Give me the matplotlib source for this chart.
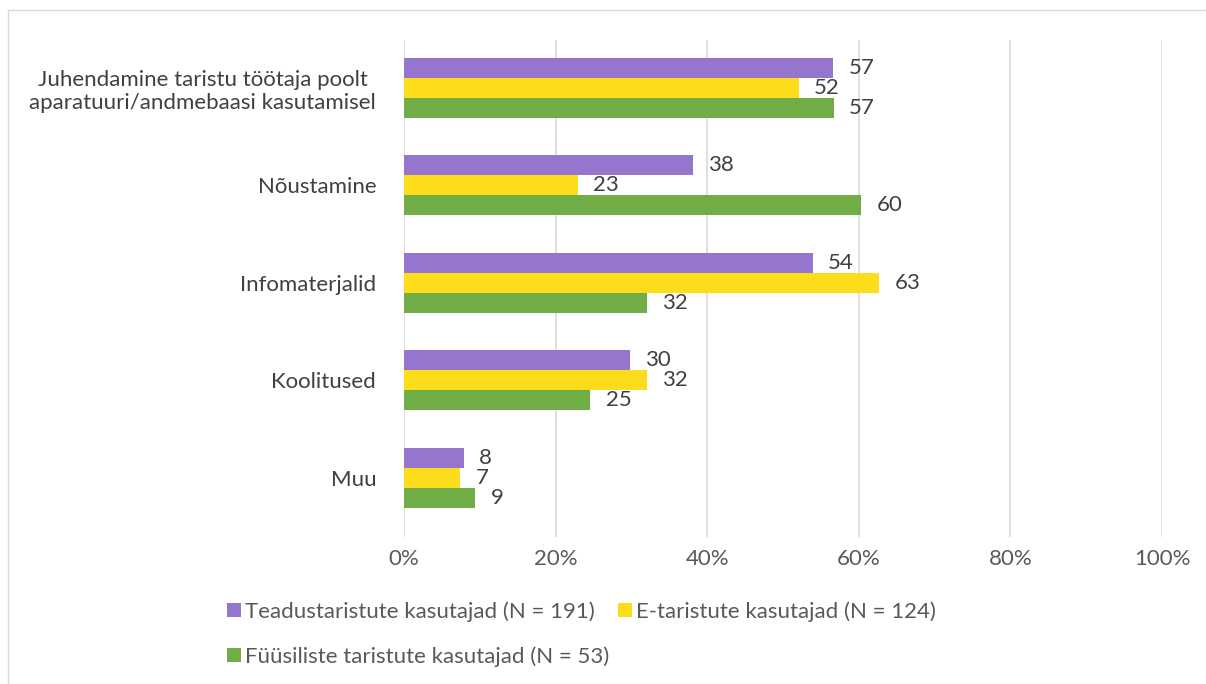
import matplotlib
matplotlib.use('Agg')
import matplotlib.pyplot as plt
import numpy as np
from matplotlib.patches import Rectangle

categories = [
    "Juhendamine taristu töötaja poolt\naparatuuri/andmebaasi kasutamisel",
    "Nõustamine",
    "Infomaterjalid",
    "Koolitused",
    "Muu",
]
teadus = [56.6, 38.1, 53.9, 29.8, 7.9]
e_taristu = [52.1, 22.9, 62.7, 32.0, 7.4]
fyysiline = [56.7, 60.3, 32.0, 24.6, 9.4]
series_names = [
    "Teadustaristute kasutajad (N = 191)",
    "E-taristute kasutajad (N = 124)",
    "Füüsiliste taristute kasutajad (N = 53)",
]
colors = ["#9575CD", "#FDDC1C", "#70AD47"]

plt.rcParams['font.family'] = ['Lato', 'DejaVu Sans']

fig = plt.figure(figsize=(12.06, 6.84), dpi=100)
ax = fig.add_axes([0.335, 0.215, 0.6285, 0.727])

# thin frame around the chart area
fig.patches.append(Rectangle((0.007, -0.01), 1.2, 0.995, transform=fig.transFigure,
                             fill=False, edgecolor="#D9D9D9", linewidth=1))

y = np.arange(len(categories))
h = 0.205
bars = []
for i, (vals, c) in enumerate(zip([teadus, e_taristu, fyysiline], colors)):
    pos = y - h + i * h
    b = ax.barh(pos, vals, height=h, color=c, label=series_names[i])
    bars.append(b)
    for p, v in zip(pos, vals):
        ax.annotate(f"{round(v)}", (v, p), xytext=(11, 0), textcoords="offset points",
                    va="center", ha="left", fontsize=16, color="#404040")

ax.set_ylim(4.605, -0.492)
ax.set_xlim(0, 100)
ax.set_xticks(range(0, 101, 20))
ax.set_xticklabels([f"{t}%" for t in range(0, 101, 20)])
ax.set_yticks(y)
ax.set_yticklabels(categories, multialignment="center")
ax.tick_params(axis="both", length=0, labelsize=16, colors="#595959")
ax.tick_params(axis="x", pad=9)
ax.tick_params(axis="y", pad=20)
for t in ax.get_yticklabels():
    t.set_color("#404040")
ax.grid(axis="x", color="#D9D9D9", linewidth=1.2)
ax.set_axisbelow(True)
for s in ax.spines.values():
    s.set_visible(False)

handles = [bars[0], bars[2], bars[1]]
labels = [series_names[0], series_names[2], series_names[1]]
fig.legend(handles, labels, ncol=2, loc="upper left", bbox_to_anchor=(0.172, 0.15),
           frameon=False, fontsize=16, handlelength=0.6, handleheight=0.6,
           handletextpad=0.2, columnspacing=0.4, labelspacing=1.1, labelcolor="#595959")

fig.savefig("out.png", dpi=100)
